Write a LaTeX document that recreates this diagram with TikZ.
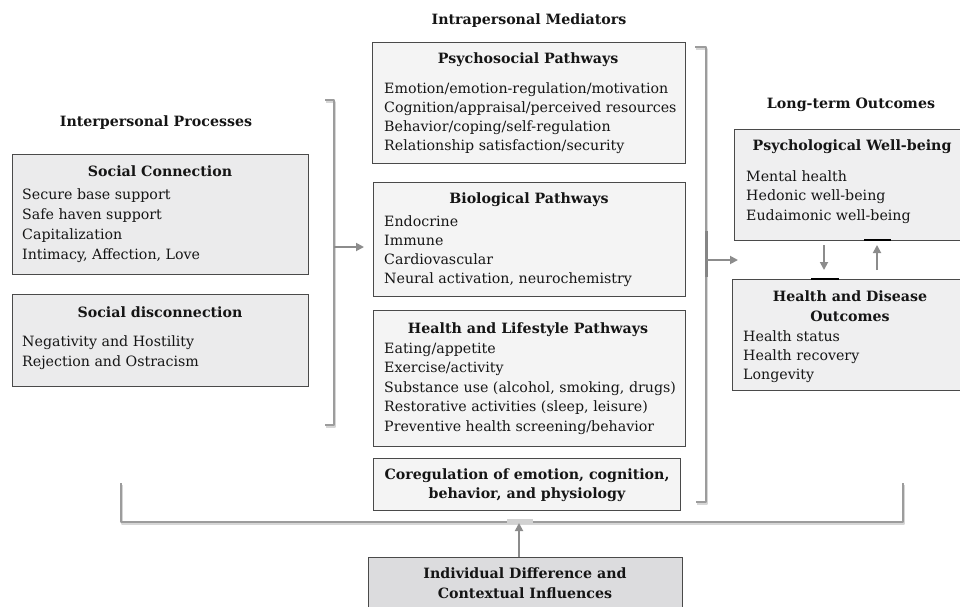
\documentclass[tikz,border=0pt]{standalone}
\usepackage{fontspec}
\setmainfont{DejaVu Serif}
\usetikzlibrary{arrows.meta}
\definecolor{bordc}{HTML}{4A4A4A}
\definecolor{brkc}{HTML}{9C9C9C}
\definecolor{shadc}{HTML}{D6D6D6}
\definecolor{arrc}{HTML}{8C8C8C}
\definecolor{fillL}{HTML}{EBEBEC}
\definecolor{fillC}{HTML}{F4F4F4}
\definecolor{fillR}{HTML}{EFEFF0}
\definecolor{fillI}{HTML}{DCDCDE}
\definecolor{txtc}{HTML}{151515}
\begin{document}
\begin{tikzpicture}[x=1pt,y=-1pt,
  box/.style={draw=bordc, line width=1.2pt, inner sep=0pt, anchor=north west},
  body/.style={anchor=base west, inner sep=0pt, text=txtc, font=\fontsize{14.2}{17}\selectfont},
  ttl/.style={anchor=base, inner sep=0pt, text=txtc, font=\fontsize{14.2}{17}\selectfont\bfseries},
  brk/.style={draw=brkc, line width=2pt, line join=round},
  brkshadow/.style={draw=shadc, line width=2pt, line join=round},
  arr/.style={draw=arrc, line width=1.8pt, -{Triangle[length=8pt,width=8pt]}},
  blackbar/.style={draw=black, line width=2pt}]
\useasboundingbox (0,0) rectangle (960,606);

% ---------- boxes ----------
\node[box, fill=fillL, minimum width=296pt, minimum height=120pt] (sc) at (12,154) {};
\node[box, fill=fillL, minimum width=296pt, minimum height=92pt] (sd) at (12,294) {};
\node[box, fill=fillC, minimum width=313pt, minimum height=121pt] (psy) at (372,42) {};
\node[box, fill=fillC, minimum width=312pt, minimum height=114pt] (bio) at (373,182) {};
\node[box, fill=fillC, minimum width=312pt, minimum height=136pt] (hl) at (373,310) {};
\node[box, fill=fillC, minimum width=307pt, minimum height=52pt] (co) at (373,458) {};
\node[box, fill=fillR, minimum width=240pt, minimum height=111pt] (pwb) at (734,129) {};
\node[box, fill=fillR, minimum width=240pt, minimum height=111pt] (hdo) at (732,279) {};
\node[box, fill=fillI, minimum width=314pt, minimum height=70pt] (ind) at (368,557) {};

% ---------- headings ----------
\node[ttl] (hInter) at (156,126) {Interpersonal Processes};
\node[ttl] (hIntra) at (529,24) {Intrapersonal Mediators};
\node[ttl] (hLong) at (851,108) {Long-term Outcomes};

% ---------- left boxes ----------
\node[ttl] (scT) at (160,176) {Social Connection};
\foreach \t [count=\i from 0] in {Secure base support, Safe haven support, Capitalization, {Intimacy, Affection, Love}}
  \node[body, name=sc\i] at (22,199+20*\i) {\t};
\node[ttl] (sdT) at (160,317) {Social disconnection};
\foreach \t [count=\i from 0] in {Negativity and Hostility, Rejection and Ostracism}
  \node[body, name=sd\i] at (22,346+20*\i) {\t};

% ---------- centre boxes ----------
\node[ttl] (psyT) at (528,63) {Psychosocial Pathways};
\foreach \t [count=\i from 0] in {Emotion/emotion-regulation/motivation, Cognition/appraisal/perceived resources, Behavior/coping/self-regulation, Relationship satisfaction/security}
  \node[body, name=psy\i] at (384,93+19*\i) {\t};
\node[ttl] (bioT) at (529,203) {Biological Pathways};
\foreach \t [count=\i from 0] in {Endocrine, Immune, Cardiovascular, {Neural activation, neurochemistry}}
  \node[body, name=bio\i] at (384,226+19*\i) {\t};
\node[ttl] (hlT) at (528,333) {Health and Lifestyle Pathways};
\foreach \t [count=\i from 0] in {Eating/appetite, Exercise/activity, {Substance use (alcohol, smoking, drugs)}, {Restorative activities (sleep, leisure)}, Preventive health screening/behavior}
  \node[body, name=hl\i] at (384,353+19.5*\i) {\t};
\node[ttl] (coT1) at (527,479) {Coregulation of emotion, cognition,};
\node[ttl] (coT2) at (527,498) {behavior, and physiology};

% ---------- right boxes ----------
\node[ttl] (pwbT) at (852,150) {Psychological Well-being};
\foreach \t [count=\i from 0] in {Mental health, Hedonic well-being, Eudaimonic well-being}
  \node[body, name=pwb\i] at (746,181+19.5*\i) {\t};
\node[ttl] (hdoT1) at (850,301) {Health and Disease};
\node[ttl] (hdoT2) at (850,321) {Outcomes};
\foreach \t [count=\i from 0] in {Health status, Health recovery, Longevity}
  \node[body, name=hdo\i] at (743,341+19*\i) {\t};

% ---------- bottom box ----------
\node[ttl] (indT1) at (525,578) {Individual Difference and};
\node[ttl] (indT2) at (525,598) {Contextual Influences};

% ---------- brackets ----------
\coordinate (lbT) at (325,100); \coordinate (lbB) at (325,425);
\coordinate (lbA) at (334,247); \coordinate (lbE) at (364,247);
\coordinate (rbT) at (695,47);  \coordinate (rbB) at (696,502);
\coordinate (rbA) at (707,260); \coordinate (rbE) at (738,260);
\coordinate (bbL) at (121,483); \coordinate (bbR) at (903,483);
\coordinate (bbA) at (519,523);

\draw[brkshadow] ([shift={(1,2)}]lbT) -- ++(9,0) |- ([shift={(1,2)}]lbB);
\draw[brk] (lbT) -- ++(9,0) |- (lbB);
\draw[brkshadow] ([shift={(1,2)}]rbT) -- ++(11,0) |- ([shift={(1,2)}]rbB);
\draw[brk] (rbT) -- ++(11,0) |- (rbB);
\draw[line width=3pt, draw=brkc!85!black] (706,231) -- (706,277);
\draw[brkshadow] ([shift={(1,2)}]bbL) |- (904,524) -- ([shift={(1,2)}]bbR);
\draw[brk] (bbL) |- (903,522) -- (bbR);
\fill[brkc!45] (507,519) rectangle (533,524);

% ---------- arrows ----------
\draw[arr] (lbA) -- (lbE);
\draw[arr] (rbA) -- (rbE);
\draw[arr] (ind.north -| bbA) -- (bbA);
\coordinate (dA) at (824,245); \coordinate (dB) at (824,270);
\coordinate (uA) at (877,270); \coordinate (uB) at (877,245);
\draw[arr] (dA) -- (dB);
\draw[arr] (uA) -- (uB);
\draw[blackbar] (864,240) -- (891,240);
\draw[blackbar] (811,279) -- (839,279);
\end{tikzpicture}
\end{document}
